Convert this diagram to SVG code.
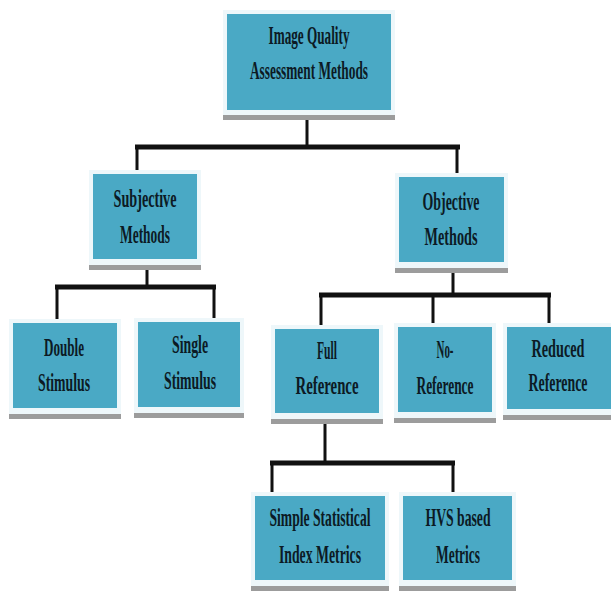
<svg xmlns="http://www.w3.org/2000/svg" width="611" height="593" viewBox="0 0 611 593">
<style>
.halo{fill:#eef7fa}
.shadow{fill:#9c9c9c}
.box{fill:#4aa9c5}
.t{font-family:"Liberation Serif","Times New Roman",serif;font-size:25px;font-weight:bold;fill:#0c1a24;text-anchor:middle}
.bar{stroke:#111;stroke-width:5;fill:none}
.v{stroke:#111;stroke-width:3;fill:none}
</style>
<rect width="611" height="593" fill="#ffffff"/>
<g id="connectors">
<path class="v" d="M307 120V147M137 147V174M457 147V177"/>
<path class="bar" d="M135 147H460"/>
<path class="v" d="M147 270V287M57 287V323M214 287V322"/>
<path class="bar" d="M55 287H216"/>
<path class="v" d="M453 273V295M321 295V329M433 295V327M549 295V327"/>
<path class="bar" d="M319 295H551"/>
<path class="v" d="M325 424V463M272 463V496M453 463V496"/>
<path class="bar" d="M270 463H455"/>
</g>
<g id="root">
<rect class="halo" x="223" y="10" width="172" height="107"/>
<rect class="shadow" x="223" y="115" width="172" height="5"/>
<rect class="box" x="227" y="14" width="164" height="96"/>
<text class="t" transform="translate(309 44) scale(0.528 1)" textLength="153.4" lengthAdjust="spacingAndGlyphs">Image Quality</text>
<text class="t" transform="translate(309 79) scale(0.533 1)" textLength="221.4" lengthAdjust="spacingAndGlyphs">Assessment Methods</text>
</g>
<g id="subjective">
<rect class="halo" x="89" y="170" width="112" height="96"/>
<rect class="shadow" x="89" y="265" width="112" height="5"/>
<rect class="box" x="93" y="174" width="104" height="85"/>
<text class="t" transform="translate(145 207) scale(0.567 1)" textLength="111.1" lengthAdjust="spacingAndGlyphs">Subjective</text>
<text class="t" transform="translate(145 243) scale(0.537 1)" textLength="93.1" lengthAdjust="spacingAndGlyphs">Methods</text>
</g>
<g id="objective">
<rect class="halo" x="395" y="173" width="113" height="96"/>
<rect class="shadow" x="395" y="268" width="113" height="5"/>
<rect class="box" x="399" y="177" width="105" height="85"/>
<text class="t" transform="translate(451 210) scale(0.555 1)" textLength="102.7" lengthAdjust="spacingAndGlyphs">Objective</text>
<text class="t" transform="translate(451 245) scale(0.57 1)" textLength="93" lengthAdjust="spacingAndGlyphs">Methods</text>
</g>
<g id="double">
<rect class="halo" x="9" y="319" width="112" height="96"/>
<rect class="shadow" x="9" y="414" width="112" height="5"/>
<rect class="box" x="13" y="323" width="104" height="85"/>
<text class="t" transform="translate(64 356) scale(0.52 1)" textLength="76.9" lengthAdjust="spacingAndGlyphs">Double</text>
<text class="t" transform="translate(64 391) scale(0.55 1)" textLength="94.5" lengthAdjust="spacingAndGlyphs">Stimulus</text>
</g>
<g id="single">
<rect class="halo" x="134" y="318" width="110" height="96"/>
<rect class="shadow" x="134" y="413" width="110" height="5"/>
<rect class="box" x="138" y="322" width="102" height="85"/>
<text class="t" transform="translate(190 353) scale(0.55 1)" textLength="65.5" lengthAdjust="spacingAndGlyphs">Single</text>
<text class="t" transform="translate(190 389) scale(0.55 1)" textLength="94.5" lengthAdjust="spacingAndGlyphs">Stimulus</text>
</g>
<g id="full">
<rect class="halo" x="271" y="325" width="112" height="95"/>
<rect class="shadow" x="271" y="419" width="112" height="5"/>
<rect class="box" x="275" y="329" width="104" height="84"/>
<text class="t" transform="translate(327 359) scale(0.46 1)" textLength="43.5" lengthAdjust="spacingAndGlyphs">Full</text>
<text class="t" transform="translate(327 394) scale(0.59 1)" textLength="106.8" lengthAdjust="spacingAndGlyphs">Reference</text>
</g>
<g id="noref">
<rect class="halo" x="394" y="323" width="102" height="96"/>
<rect class="shadow" x="394" y="418" width="102" height="5"/>
<rect class="box" x="398" y="327" width="94" height="85"/>
<text class="t" transform="translate(445 358) scale(0.44 1)" textLength="38.6" lengthAdjust="spacingAndGlyphs">No-</text>
<text class="t" transform="translate(445 394) scale(0.533 1)" textLength="106.9" lengthAdjust="spacingAndGlyphs">Reference</text>
</g>
<g id="reduced">
<rect class="halo" x="503" y="323" width="108" height="93"/>
<rect class="shadow" x="503" y="415" width="108" height="5"/>
<rect class="box" x="507" y="327" width="104" height="82"/>
<text class="t" transform="translate(558 357) scale(0.57 1)" textLength="93" lengthAdjust="spacingAndGlyphs">Reduced</text>
<text class="t" transform="translate(558 391) scale(0.552 1)" textLength="106.9" lengthAdjust="spacingAndGlyphs">Reference</text>
</g>
<g id="simple">
<rect class="halo" x="251" y="492" width="138" height="95"/>
<rect class="shadow" x="251" y="586" width="138" height="5"/>
<rect class="box" x="255" y="496" width="130" height="84"/>
<text class="t" transform="translate(320 526) scale(0.545 1)" textLength="185.3" lengthAdjust="spacingAndGlyphs">Simple Statistical</text>
<text class="t" transform="translate(320 563) scale(0.55 1)" textLength="149.1" lengthAdjust="spacingAndGlyphs">Index Metrics</text>
</g>
<g id="hvs">
<rect class="halo" x="399" y="492" width="117" height="95"/>
<rect class="shadow" x="399" y="586" width="117" height="5"/>
<rect class="box" x="403" y="496" width="109" height="84"/>
<text class="t" transform="translate(458 526) scale(0.547 1)" textLength="118.8" lengthAdjust="spacingAndGlyphs">HVS based</text>
<text class="t" transform="translate(458 563) scale(0.537 1)" textLength="81.9" lengthAdjust="spacingAndGlyphs">Metrics</text>
</g>
</svg>
